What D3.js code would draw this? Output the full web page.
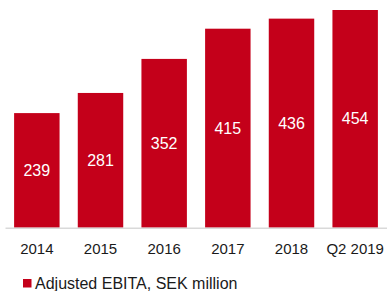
<!DOCTYPE html>
<html>
<head>
<meta charset="utf-8">
<script src="https://cdn.jsdelivr.net/npm/d3@7"></script>
<style>
  body { margin: 0; background: #fff; }
  svg { display: block; font-family: "Liberation Sans", Arial, sans-serif; }
</style>
</head>
<body>
<div id="chart"></div>
<script>
// data
var years = ["2014", "2015", "2016", "2017", "2018", "Q2 2019"];
var ebita = [239, 281, 352, 415, 436, 454];
var legendLabel = "Adjusted EBITA, SEK million";

var width = 387,
    height = 291;

var svg = d3.select("#chart")
    .append("svg")
    .attr("width", width)
    .attr("height", height);

// scales
var xScale = d3.scaleBand()
    .domain(years)
    .range([5, 387])
    .paddingInner(0.286)
    .paddingOuter(0.143);

var yScale = d3.scaleLinear()
    .domain([0, 454])
    .range([227.7, 10]);

// bars
svg.selectAll("rect.bar")
    .data(ebita)
    .enter()
    .append("rect")
    .attr("class", "bar")
    .attr("fill", "#c4001a")
    .attr("x", function(d, i) { return xScale(years[i]); })
    .attr("y", function(d) { return yScale(d); })
    .attr("width", xScale.bandwidth())
    .attr("height", function(d) { return yScale(0) - yScale(d); });

// values inside bars
svg.selectAll("text.value")
    .data(ebita)
    .enter()
    .append("text")
    .attr("class", "value")
    .attr("fill", "#fff")
    .attr("font-size", "16px")
    .attr("text-anchor", "middle")
    .attr("dy", "0.35em")
    .attr("x", function(d, i) { return xScale(years[i]) + xScale.bandwidth() / 2; })
    .attr("y", function(d) { return (yScale(d) + yScale(0)) / 2; })
    .text(function(d) { return d; });

// x axis
var xAxis = d3.axisBottom(xScale).tickSize(0).tickPadding(16);
var gx = svg.append("g")
    .attr("transform", "translate(0," + yScale(0) + ")")
    .call(xAxis);
gx.select(".domain").attr("stroke", "#d9d9d9").attr("stroke-width", 1.5);
gx.selectAll("text")
    .attr("font-size", "15px")
    .attr("fill", "#1a1a1a")
    .attr("font-family", "'Liberation Sans', Arial, sans-serif");

// legend
var legend = svg.append("g");
legend.append("rect")
    .attr("x", 23)
    .attr("y", 279)
    .attr("width", 8.5)
    .attr("height", 8.5)
    .attr("fill", "#c4001a");
legend.append("text")
    .attr("x", 35)
    .attr("y", 289)
    .attr("font-size", "16px")
    .attr("fill", "#1a1a1a")
    .text(legendLabel);
</script>
</body>
</html>
